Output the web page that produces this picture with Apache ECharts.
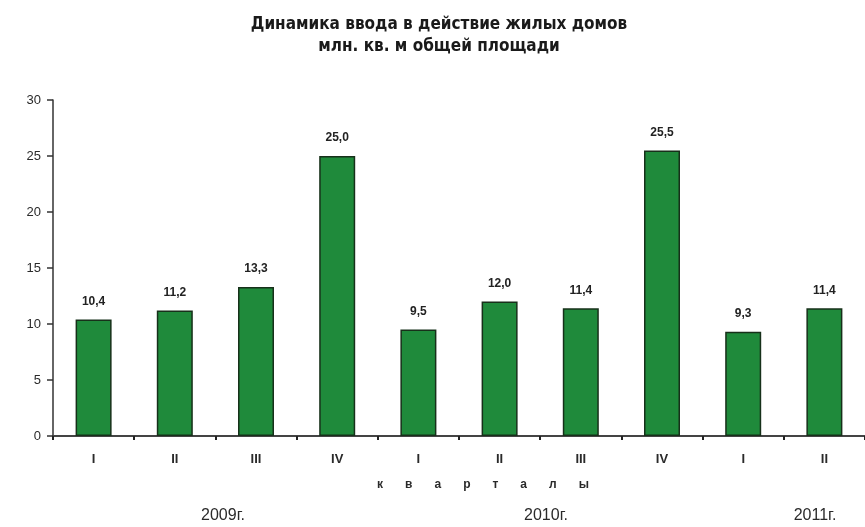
<!DOCTYPE html>
<html>
<head>
<meta charset="utf-8">
<script src="https://cdn.jsdelivr.net/npm/echarts@6/dist/echarts.min.js"></script>
<style>html,body{margin:0;padding:0;background:#fff;}#c{width:865px;height:527px;}</style>
</head>
<body>
<div id="c"></div>
<script>
const titleLines = ['Динамика ввода в действие жилых домов', 'млн. кв. м общей площади'];
const categories = ['I', 'II', 'III', 'IV', 'I', 'II', 'III', 'IV', 'I', 'II'];
const values = [10.4, 11.2, 13.3, 25.0, 9.5, 12.0, 11.4, 25.5, 9.3, 11.4];
const valueLabels = ['10,4', '11,2', '13,3', '25,0', '9,5', '12,0', '11,4', '25,5', '9,3', '11,4'];
const axisName = 'кварталы';
const years = ['2009г.', '2010г.', '2011г.'];
const yTicks = [0, 5, 10, 15, 20, 25, 30];

const chart = echarts.init(document.getElementById('c'));
const textCol = '#2a2a2a';
const yearX = [223, 546, 815];
chart.setOption({
  backgroundColor: '#ffffff',
  animation: false,
  title: {
    text: titleLines.join('\n'),
    left: 434,
    textAlign: 'center',
    top: 9,
    textStyle: {
      fontFamily: '"Liberation Sans Narrow", "DejaVu Sans Condensed", sans-serif',
      fontWeight: 'bold',
      fontSize: 17,
      lineHeight: 22,
      color: '#1a1a1a'
    }
  },
  grid: { left: 53, right: -8, top: 100, bottom: 91, containLabel: false },
  xAxis: {
    type: 'category',
    data: categories,
    axisLine: { lineStyle: { color: '#444', width: 2 } },
    axisTick: { show: true, length: 4, lineStyle: { color: '#222', width: 2 } },
    axisLabel: { color: textCol, fontSize: 13, margin: 17, fontFamily: '"Liberation Sans Narrow", Arial, sans-serif', fontWeight: 'bold' }
  },
  yAxis: {
    type: 'value',
    min: yTicks[0],
    max: yTicks[yTicks.length - 1],
    interval: 5,
    axisLine: { show: true, lineStyle: { color: '#333', width: 1.5 } },
    axisTick: { show: true, length: 6, lineStyle: { color: '#333', width: 1.5 } },
    splitLine: { show: false },
    axisLabel: { color: textCol, fontSize: 13, margin: 12, fontFamily: 'Arial, "Liberation Sans", sans-serif' }
  },
  series: [{
    type: 'bar',
    data: values,
    barWidth: 36,
    itemStyle: { color: '#1f8a3b', borderColor: '#17301a', borderWidth: 1.5 },
    label: {
      show: true,
      position: 'top',
      distance: 12,
      color: '#222',
      fontSize: 12,
      fontWeight: 'bold',
      fontFamily: 'Arial, sans-serif',
      formatter: p => valueLabels[p.dataIndex]
    }
  }],
  graphic: [
    {
      type: 'text', x: 483, y: 485,
      style: { text: axisName.split('').join('\u2003\u2002\u2004'), fill: textCol, fontSize: 12, fontWeight: 'bold', fontFamily: 'Arial, sans-serif', textAlign: 'center', textVerticalAlign: 'middle' }
    }
  ].concat(years.map((y, i) => ({
    type: 'text', x: yearX[i], y: 516,
    style: { text: y, fill: textCol, fontSize: 16, fontFamily: 'Arial, sans-serif', textAlign: 'center', textVerticalAlign: 'middle' }
  })))
});
</script>
</body>
</html>
